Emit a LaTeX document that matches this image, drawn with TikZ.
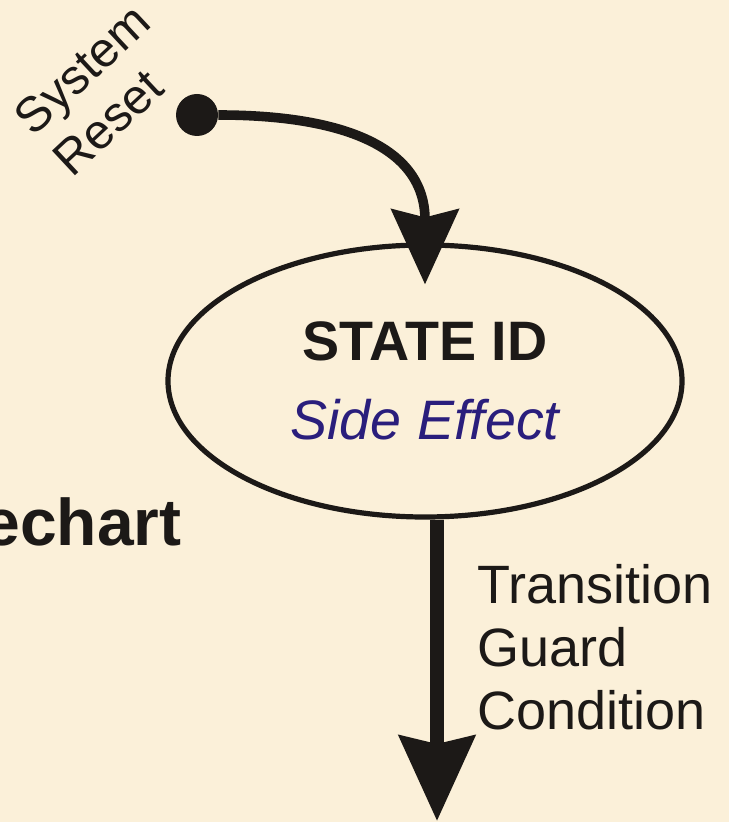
\documentclass[tikz,border=0pt]{standalone}
\usepackage{fontspec}
\setmainfont{Liberation Sans}
\usetikzlibrary{arrows.meta,shapes.geometric,calc}
\definecolor{bg}{HTML}{FBF0D9}
\definecolor{ink}{HTML}{1C1917}
\definecolor{effect}{HTML}{2A1E7C}
\begin{document}
\begin{tikzpicture}[x=0.5pt,y=-0.5pt,
  statebox/.style={ellipse,draw=ink,line width=2.6pt,minimum width=257pt,minimum height=136pt,inner sep=0pt,align=center,text=ink,font=\fontsize{27.8}{39.5}\selectfont},
  initdot/.style={circle,fill=ink,minimum size=21pt,inner sep=0pt},
  flowin/.style={draw=ink,line width=4.8pt,-{Stealth[length=37.5pt,width=33.5pt,inset=4pt]}},
  flowout/.style={draw=ink,line width=7pt,-{Stealth[length=42.5pt,width=37.5pt,inset=4pt]}},
  lbl/.style={inner sep=0pt,text=ink}]
\fill[bg] (0,0) rectangle (729,822);
\useasboundingbox (0,0) rectangle (729,822);
\node[lbl,anchor=base east,font=\fontsize{33}{40}\selectfont\bfseries] (title) at (182,545) {echart};
\node[statebox] (state) at (425,381) {\textbf{STATE ID}\\\textcolor{effect}{\itshape Side Effect}};
\node[initdot] (init) at (197,115) {};
\node[lbl,rotate=43,anchor=north west,align=left,font=\fontsize{24.5}{28.3}\selectfont] (reset) at (10,112) {System\\Reset};
\coordinate (bot) at (437,821);
\draw[flowin,shorten >=-21pt] (init.east) .. controls +(125,0) and +(0,-95) .. (state.north);
\draw[flowout] (state.south -| bot) -- (bot);
\node[lbl,anchor=north west,align=left,font=\fontsize{27}{31.5}\selectfont] (guard) at (477,564) {Transition\\Guard\\Condition};
\end{tikzpicture}
\end{document}
